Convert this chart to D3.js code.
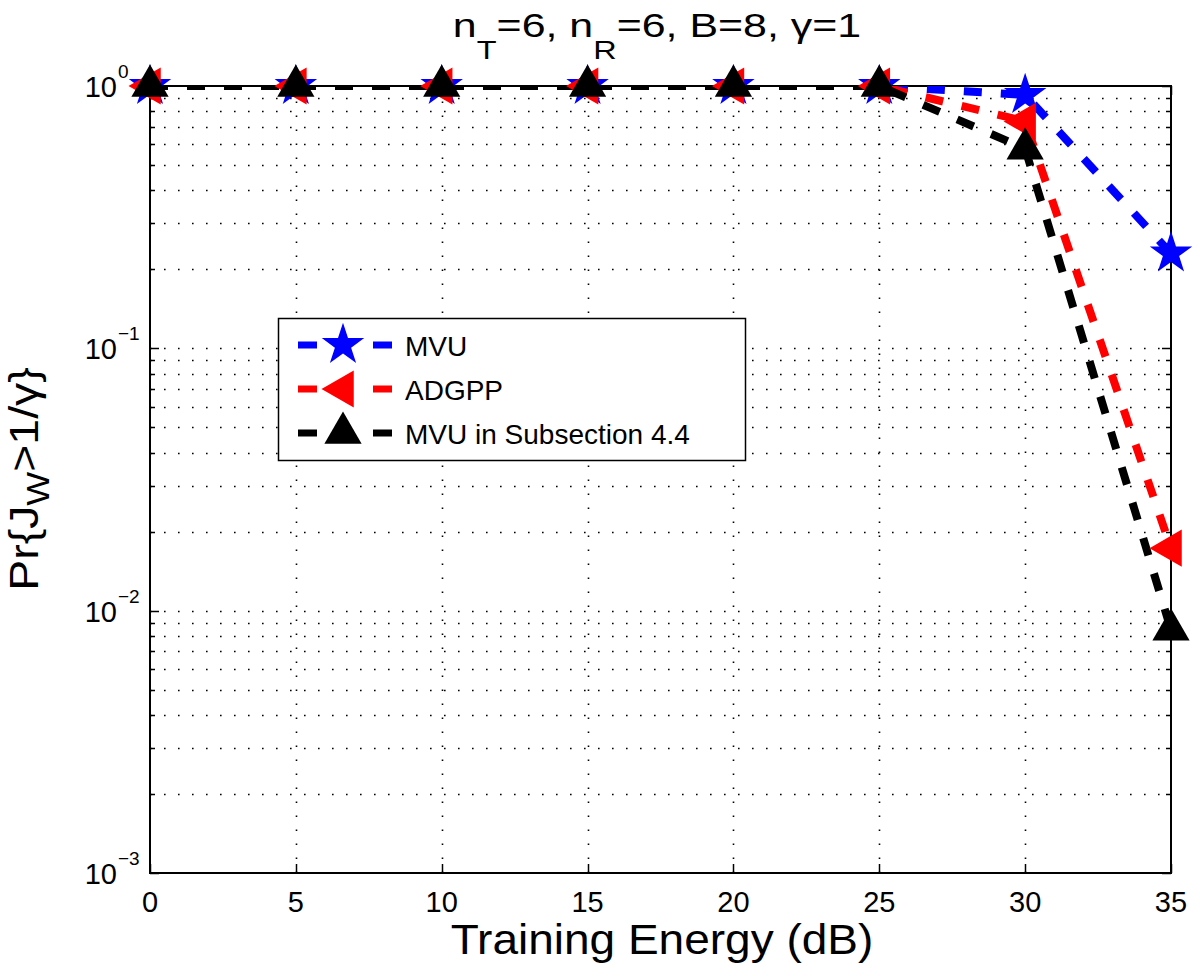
<!DOCTYPE html>
<html>
<head>
<meta charset="utf-8">
<script src="https://cdn.jsdelivr.net/npm/d3@7"></script>
<style>
  html, body { margin: 0; padding: 0; background: #fff; }
  svg { display: block; font-family: "Liberation Sans", Arial, Helvetica, sans-serif; }
</style>
</head>
<body>
<svg id="chart" width="1200" height="976"></svg>
<script>
// ---- data ----
const energy = [0, 5, 10, 15, 20, 25, 30, 35];
const mvu = [1, 1, 1, 1, 1, 1, 0.924, 0.23];
const adgpp = [1, 1, 1, 1, 1, 1, 0.733, 0.0173];
const mvuSub44 = [1, 1, 1, 1, 1, 1, 0.577, 0.00845];
const seriesNames = ["MVU", "ADGPP", "MVU in Subsection 4.4"];
const xTicks = [0, 5, 10, 15, 20, 25, 30, 35];
const yTickExps = [0, -1, -2, -3];

// ---- layout ----
const W = 1200, H = 976;
const m = { left: 150, right: 1171, top: 86, bottom: 873 };
const svg = d3.select("#chart");

const x = d3.scaleLinear().domain([0, 35]).range([m.left, m.right]);
const y = d3.scaleLog().domain([1e-3, 1]).range([m.bottom, m.top]);

const yAll = [];
for (let e = -3; e < 0; e++) for (let k = 1; k <= 9; k++) yAll.push(k * Math.pow(10, e));
yAll.push(1);
const yMajor = yTickExps.map(e => Math.pow(10, e));

// ---- grid ----
const grid = svg.append("g").attr("stroke", "#000").attr("stroke-width", 1.6)
  .attr("stroke-dasharray", "1.6,12.4").attr("fill", "none");
yAll.filter(v => v < 1 && v > 1e-3).forEach(v => {
  grid.append("line").attr("x1", m.left).attr("x2", m.right)
    .attr("y1", Math.round(y(v)) + 0.5).attr("y2", Math.round(y(v)) + 0.5);
});
xTicks.filter(t => t > 0 && t < 35).forEach(t => {
  grid.append("line").attr("y1", m.bottom).attr("y2", m.top)
    .attr("x1", Math.round(x(t)) + 0.5).attr("x2", Math.round(x(t)) + 0.5);
});

// ---- ticks (inward) ----
const ticks = svg.append("g").attr("stroke", "#000").attr("stroke-width", 1.5);
xTicks.forEach(t => {
  const xx = Math.round(x(t)) + 0.5;
  ticks.append("line").attr("x1", xx).attr("x2", xx).attr("y1", m.bottom).attr("y2", m.bottom - 9);
  ticks.append("line").attr("x1", xx).attr("x2", xx).attr("y1", m.top).attr("y2", m.top + 9);
});
yAll.forEach(v => {
  const yy = Math.round(y(v)) + 0.5;
  const len = yMajor.some(mv => Math.abs(mv - v) < 1e-12) ? 9 : 5;
  ticks.append("line").attr("x1", m.left).attr("x2", m.left + len).attr("y1", yy).attr("y2", yy);
  ticks.append("line").attr("x1", m.right).attr("x2", m.right - len).attr("y1", yy).attr("y2", yy);
});

// ---- axes box ----
svg.append("rect").attr("x", m.left).attr("y", m.top)
  .attr("width", m.right - m.left).attr("height", m.bottom - m.top)
  .attr("fill", "none").attr("stroke", "#000").attr("stroke-width", 2);

// ---- tick labels ----
const xl = svg.append("g").attr("font-size", 29).attr("text-anchor", "middle").attr("fill", "#000");
xTicks.forEach(t => {
  xl.append("text").attr("x", x(t)).attr("y", 912).text(t);
});
const yl = svg.append("g").attr("fill", "#000");
yTickExps.forEach(e => {
  const yy = y(Math.pow(10, e));
  yl.append("text").attr("text-anchor", "end").attr("x", 117).attr("y", yy + 11).attr("font-size", 29).text("10");
  const sup = e === 0 ? "0" : "\u2212" + Math.abs(e);
  yl.append("text").attr("x", 118).attr("y", yy - 8).attr("font-size", 19).text(sup);
});

// ---- series ----
const clipId = "plotclip";
svg.append("clipPath").attr("id", clipId).append("rect")
  .attr("x", m.left).attr("y", m.top).attr("width", m.right - m.left).attr("height", m.bottom - m.top);

const series = [
  { name: seriesNames[0], vals: mvu, color: "#0000ff", marker: "star" },
  { name: seriesNames[1], vals: adgpp, color: "#ff0000", marker: "left" },
  { name: seriesNames[2], vals: mvuSub44, color: "#000000", marker: "up" }
];
const line = d3.line().x((d, i) => x(energy[i])).y(d => y(d));
const starSym = d3.symbol().type(d3.symbolStar).size(560);
const triSym = d3.symbol().type(d3.symbolTriangle).size(600);
function drawMarker(g, kind, cx, cy, color) {
  if (kind === "star") {
    g.append("path").attr("d", starSym()).attr("transform", `translate(${cx},${cy})`).attr("fill", color);
  } else if (kind === "up") {
    g.append("path").attr("d", triSym()).attr("transform", `translate(${cx},${cy})`).attr("fill", color);
  } else {
    g.append("path").attr("d", triSym()).attr("transform", `translate(${cx},${cy}) rotate(-90)`).attr("fill", color);
  }
}

series.forEach(s => {
  svg.append("path").datum(s.vals).attr("d", line)
    .attr("clip-path", `url(#${clipId})`)
    .attr("fill", "none").attr("stroke", s.color).attr("stroke-width", 8)
    .attr("stroke-dasharray", "18,19");
});
series.forEach(s => {
  const g = svg.append("g");
  s.vals.forEach((v, i) => drawMarker(g, s.marker, x(energy[i]), y(v), s.color));
});

// ---- legend ----
const lg = svg.append("g");
lg.append("rect").attr("x", 278.5).attr("y", 318.5).attr("width", 467).attr("height", 142)
  .attr("fill", "#fff").attr("stroke", "#000").attr("stroke-width", 1.5);
const rowY = [345, 389, 433];
series.forEach((s, i) => {
  lg.append("line").attr("x1", 298).attr("x2", 392).attr("y1", rowY[i]).attr("y2", rowY[i])
    .attr("stroke", s.color).attr("stroke-width", 7).attr("stroke-dasharray", "19,56");
  drawMarker(lg, s.marker, 343, rowY[i], s.color);
  lg.append("text").attr("x", 405).attr("y", rowY[i] + 11).attr("font-size", 28).attr("fill", "#000").text(s.name);
});

// ---- title ----
const title = svg.append("text").attr("transform", "translate(657,37) scale(1.3,1)")
  .attr("x", 0).attr("y", 0).attr("text-anchor", "middle")
  .attr("font-size", 33).attr("fill", "#000");
title.append("tspan").text("n");
title.append("tspan").attr("dy", 22).attr("font-size", 25).text("T");
title.append("tspan").attr("dy", -22).text("=6, n");
title.append("tspan").attr("dy", 22).attr("font-size", 25).text("R");
title.append("tspan").attr("dy", -22).text("=6, B=8, \u03b3=1");

// ---- axis labels ----
svg.append("text").attr("transform", "translate(662,954) scale(1.07,1)")
  .attr("text-anchor", "middle")
  .attr("font-size", 43).attr("fill", "#000").text("Training Energy (dB)");
const ylab = svg.append("text").attr("transform", "translate(38,479) rotate(-90) scale(1.16,1)")
  .attr("text-anchor", "middle").attr("font-size", 40).attr("fill", "#000");
ylab.append("tspan").text("Pr{J");
ylab.append("tspan").attr("dy", 11).attr("font-size", 31).text("W");
ylab.append("tspan").attr("dy", -11).text(">1/\u03b3}");
</script>
</body>
</html>
